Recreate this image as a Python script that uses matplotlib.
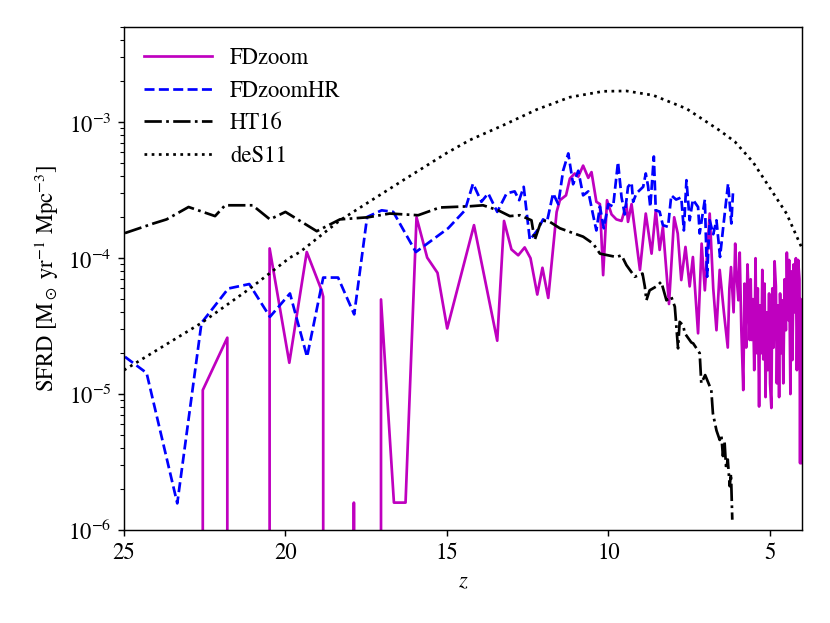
import numpy as np
import matplotlib
matplotlib.use("Agg")
import matplotlib.pyplot as plt

plt.rcParams['font.family'] = ['STIXGeneral', 'DejaVu Serif']
plt.rcParams['mathtext.fontset'] = 'stix'
plt.rcParams['font.size'] = 12.5

# FDzoom (zeros fall off the bottom of the log axis)
z_fd = [25.0, 22.7, 22.56, 21.8, 21.75, 20.55, 20.49, 19.88, 19.34, 18.88, 18.83,
        18.78, 17.95, 17.88, 17.8, 17.1, 17.04, 16.64, 16.28, 15.94, 15.61, 15.29,
        14.99, 14.16, 13.44, 13.23, 13.0, 12.79, 12.59, 12.41, 12.2, 12.04, 11.86,
        11.6, 11.5, 11.31, 11.19, 11.04, 10.93, 10.78, 10.62, 10.52, 10.37, 10.26,
        10.16, 10.04, 9.9, 9.75, 9.59, 9.44, 9.39, 9.28, 9.02, 8.84, 8.66, 8.53,
        8.41, 8.31, 8.12, 7.96, 7.85, 7.74, 7.61, 7.48, 7.38, 7.22, 7.11, 7.01,
        6.86, 6.75, 6.65, 6.55, 6.42, 6.3, 6.25, 6.2, 6.12, 6.07, 6.02, 5.97,
        5.93, 5.88, 5.82, 5.78, 5.73, 5.69, 5.66, 5.62, 5.59, 5.56, 5.52, 5.48,
        5.44, 5.41, 5.37, 5.33, 5.3, 5.26, 5.23, 5.2, 5.16, 5.13, 5.1, 5.06,
        5.02, 4.99, 4.95, 4.92, 4.88, 4.85, 4.81, 4.78, 4.74, 4.71, 4.68, 4.64,
        4.61, 4.58, 4.54, 4.5, 4.47, 4.43, 4.4, 4.36, 4.33, 4.3, 4.26, 4.23,
        4.19, 4.16, 4.12, 4.08, 4.06, 4.04, 4.02, 4.0]
sfrd_fd = [0, 0, 1.07e-5, 2.6e-5, 0, 0, 1.18e-4, 1.7e-5, 1.11e-4, 5.8e-5, 5.2e-5,
           0, 0, 1.59e-6, 0, 0, 4.97e-5, 1.59e-6, 1.59e-6, 2.0e-4, 1.01e-4, 7.8e-5,
           3.04e-5, 1.75e-4, 2.47e-5, 1.88e-4, 1.16e-4, 1.05e-4, 1.2e-4, 1.0e-4, 5.4e-5,
           8.5e-5, 5.1e-5, 2.19e-4, 2.67e-4, 2.9e-4, 3.85e-4, 4.2e-4, 3.98e-4, 4.8e-4,
           3.9e-4, 4.3e-4, 2.6e-4, 2.5e-4, 7.5e-5, 2.67e-4, 2.1e-4, 1.93e-4, 1.88e-4,
           2.5e-4, 1.85e-4, 2.5e-4, 8.2e-5, 2.13e-4, 1.08e-4, 2.25e-4, 1.15e-4, 1.7e-4,
           4.6e-5, 2.0e-4, 1.52e-4, 6.9e-5, 1.21e-4, 6.2e-5, 1.02e-4, 2.8e-5, 1.28e-4,
           5.8e-5, 2.13e-4, 6.0e-5, 2.95e-5, 8.2e-5, 4.0e-5, 2.2e-5, 6.0e-5, 8.6e-5,
           4.0e-5, 1.28e-4, 7.0e-5, 4.9e-5,
           1.1e-4, 3.0e-5, 1.07e-5, 6.5e-5, 2.2e-5, 9.0e-5, 5.8e-5, 2.5e-5, 7.0e-5,
           2.5e-5, 5.0e-5, 1.5e-5,
           1.0e-4, 2.0e-5, 6.0e-5, 8.1e-6, 4.5e-5, 2.0e-5, 8.2e-5, 1.8e-5, 6.5e-5,
           9.5e-6, 4.0e-5, 1.5e-5,
           5.5e-5, 1.2e-5, 7.9e-6, 6.0e-5, 2.2e-5, 9.5e-5, 6.2e-5, 1.2e-5, 4.5e-5,
           9.5e-6, 5.5e-5, 2.0e-5,
           4.9e-5, 1.2e-5, 7.0e-5, 2.95e-5, 1.1e-4, 3.5e-5, 9.7e-5, 1.0e-5, 8.0e-5,
           1.78e-5, 9.0e-5, 4.0e-5,
           1.0e-4, 1.5e-5, 9.7e-5, 7.0e-5, 3.1e-6, 5.0e-5, 3.1e-6, 2.5e-5]

# FDzoomHR
z_hr = [24.97, 24.3, 23.35, 22.6, 21.77, 21.12, 20.48, 19.86, 19.33, 18.83, 18.37,
        17.87, 17.47, 17.02, 16.66, 15.96, 14.96, 14.44, 14.19, 13.93, 13.72, 13.44,
        13.15, 12.9, 12.76, 12.62, 12.43, 12.2, 12.02, 11.9, 11.71, 11.55, 11.4,
        11.24, 11.09, 10.93, 10.78, 10.62, 10.47, 10.37, 10.26, 10.14, 10.0, 9.85,
        9.7, 9.59, 9.49, 9.39, 9.28, 9.23, 9.13, 8.92, 8.84, 8.77, 8.7, 8.59, 8.53,
        8.41, 8.31, 8.15, 8.05, 7.9, 7.74, 7.66, 7.58, 7.48, 7.38, 7.22, 7.17,
        7.01, 6.96, 6.94, 6.86, 6.75, 6.65, 6.54, 6.44, 6.29, 6.19, 6.14]
sfrd_hr = [1.88e-5, 1.43e-5, 1.57e-6, 3.34e-5, 5.98e-5, 6.45e-5, 3.7e-5, 5.5e-5,
           1.88e-5, 7.2e-5, 7.2e-5, 3.86e-5, 2.01e-4, 2.25e-4, 2.19e-4, 1.11e-4,
           1.66e-4, 2.25e-4, 3.54e-4, 2.6e-4, 3.0e-4, 2.19e-4, 3.0e-4, 3.1e-4, 2.67e-4,
           3.35e-4, 1.36e-4, 1.6e-4, 1.93e-4, 1.85e-4, 3.0e-4, 2.5e-4, 4.4e-4, 5.9e-4,
           3.5e-4, 4.4e-4, 2.9e-4, 3.1e-4, 2.07e-4, 1.6e-4, 2.4e-4, 1.66e-4, 2.5e-4,
           2.4e-4, 5.1e-4, 2.8e-4, 2.1e-4, 3.35e-4, 3.6e-4, 2.6e-4, 3.0e-4, 3.35e-4,
           4.2e-4, 3.4e-4, 2.38e-4, 5.6e-4, 2.25e-4, 2.2e-4, 1.75e-4, 1.7e-4, 2.9e-4,
           2.7e-4, 2.8e-4, 1.6e-4, 3.75e-4, 1.9e-4, 2.7e-4, 2.38e-4, 1.52e-4, 2.7e-4,
           1.02e-4, 7.3e-5, 1.9e-4, 1.5e-4, 1.9e-4, 1.02e-4, 1.7e-4, 3.54e-4, 1.8e-4,
           3.0e-4]

# HT16
z_ht = [24.97, 24.09, 23.68, 23.0, 22.18, 21.87, 21.02, 20.48, 20.0, 19.03, 18.31,
        17.44, 16.77, 15.89, 15.22, 14.29, 13.88, 13.41, 13.05, 12.74, 12.38, 12.28,
        12.07, 11.81, 11.5, 11.19, 10.78, 10.47, 10.26, 9.75, 9.59, 9.44, 9.18,
        8.94, 8.87, 8.82, 8.72, 8.51, 8.36, 8.2, 8.05, 7.94, 7.84, 7.79, 7.68,
        7.63, 7.43, 7.37, 7.17, 7.12, 7.0, 6.81, 6.76, 6.65, 6.55, 6.5, 6.45,
        6.4, 6.35, 6.3, 6.24, 6.2, 6.16]
sfrd_ht = [1.53e-4, 1.8e-4, 1.93e-4, 2.38e-4, 2.04e-4, 2.45e-4, 2.45e-4, 1.93e-4,
           2.19e-4, 1.58e-4, 1.93e-4, 2.0e-4, 2.13e-4, 2.07e-4, 2.36e-4, 2.41e-4,
           2.45e-4, 2.25e-4, 2.04e-4, 2.07e-4, 1.9e-4, 1.36e-4, 1.9e-4, 1.85e-4,
           1.66e-4, 1.56e-4, 1.44e-4, 1.28e-4, 1.08e-4, 1.02e-4, 1.05e-4, 8.9e-5,
           7.3e-5, 7.7e-5, 6.2e-5, 4.9e-5, 5.8e-5, 6.2e-5, 6.7e-5, 4.9e-5, 5.2e-5,
           4.4e-5, 2.17e-5, 3.4e-5, 3.2e-5, 2.8e-5, 2.4e-5, 2.36e-5, 2.0e-5, 1.2e-5,
           1.38e-5, 1.07e-5, 7.2e-6, 5.4e-6, 4.6e-6, 5.0e-6, 3.5e-6, 4.5e-6, 2.8e-6,
           3.3e-6, 2.1e-6, 2.6e-6, 1.19e-6]

# deS11
z_ds = [25.0, 22.6, 21.1, 19.86, 19.55, 18.31, 16.35, 15.0, 14.29, 13.26, 12.22,
        11.19, 10.16, 9.44, 8.61, 7.58, 6.55, 6.08, 5.52, 4.48, 4.02]
sfrd_ds = [1.5e-5, 3.34e-5, 5.98e-5, 1.01e-4, 1.11e-4, 1.9e-4, 3.75e-4, 5.95e-4,
           7.4e-4, 9.5e-4, 1.24e-3, 1.53e-3, 1.69e-3, 1.7e-3, 1.58e-3, 1.26e-3,
           8.7e-4, 7.2e-4, 5.1e-4, 2.13e-4, 1.21e-4]

fig = plt.figure(figsize=(830 / 130, 623 / 130), dpi=130)
ax = fig.add_axes([0.1494, 0.1493, 0.9663 - 0.1494, 0.9562 - 0.1493])

ax.plot(z_fd, sfrd_fd, color='m', lw=1.5, label='FDzoom')
ax.plot(z_hr, sfrd_hr, color='b', ls='--', lw=1.5, label='FDzoomHR')
ax.plot(z_ht, sfrd_ht, color='k', ls='-.', lw=1.5, label='HT16')
ax.plot(z_ds, sfrd_ds, color='k', ls=':', lw=1.5, label='deS11')

ax.set_yscale('log')
ax.set_xlim(25, 4)
ax.set_ylim(1e-6, 5e-3)
ax.set_xticks([25, 20, 15, 10, 5])
ax.set_xlabel('$z$')
ax.set_ylabel(r'SFRD [M$_\odot$ yr$^{-1}$ Mpc$^{-3}$]')
ax.legend(loc='upper left', frameon=False, handlelength=3)

fig.savefig('out.png', dpi=130)
